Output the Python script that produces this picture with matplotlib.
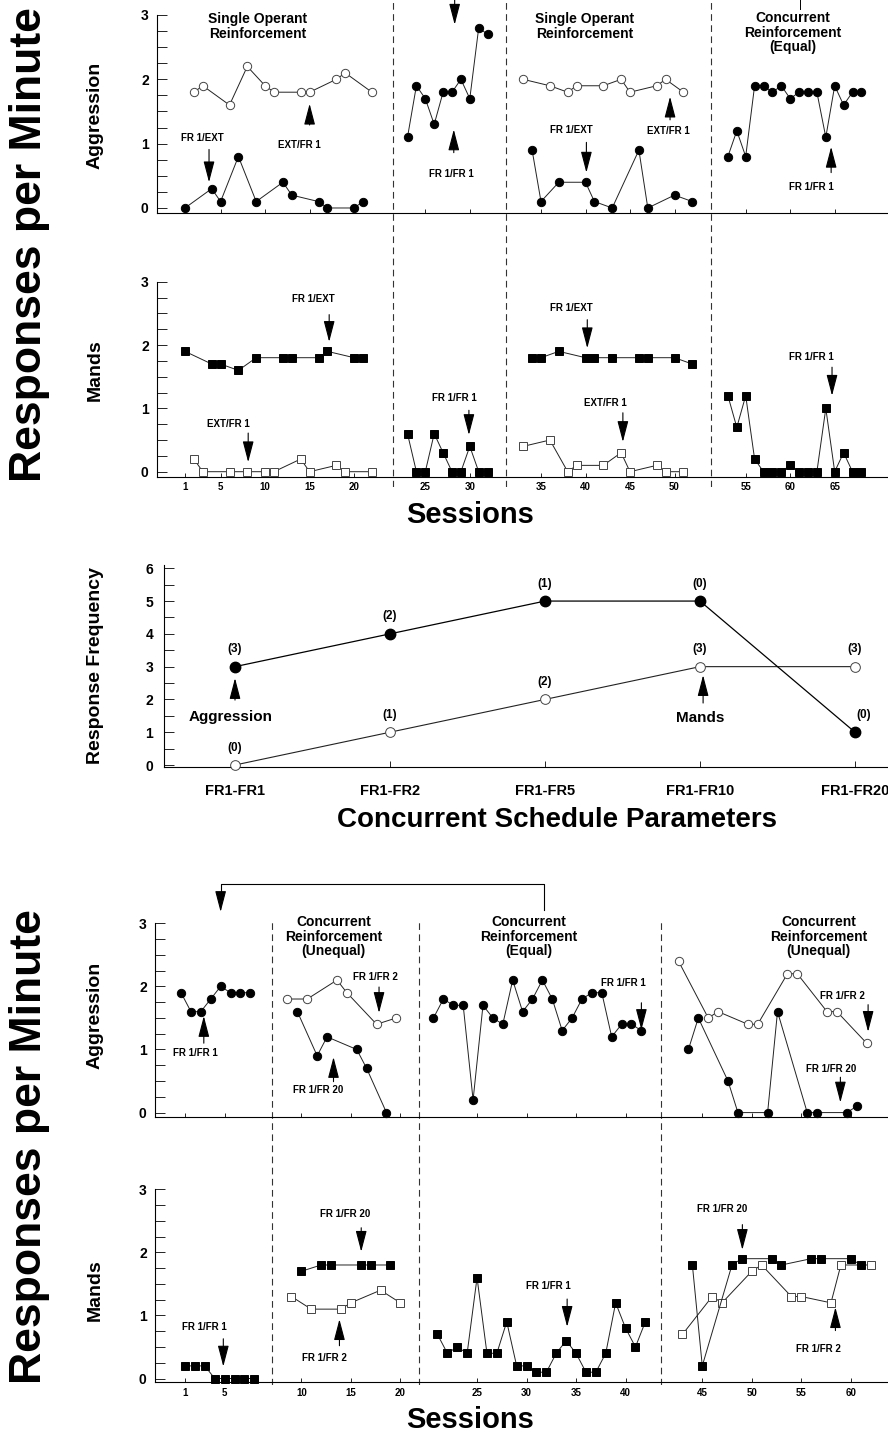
import numpy as np
import matplotlib.pyplot as plt
from matplotlib.ticker import MultipleLocator, FixedLocator

plt.rcParams['font.family'] = ['Liberation Sans', 'DejaVu Sans']
plt.rcParams['font.weight'] = 'bold'

W, H = 888, 1439

# ---------------- first study (top) ----------------
top_phase_starts = [1, 23, 33, 53]
top_ticks = [1, 5, 10, 15, 20, 25, 30, 35, 40, 45, 50, 55, 60, 65]

# phase 1: single operant reinforcement (alternating conditions)
t1_sess_fill = [1, 4, 5, 7, 9, 12, 13, 16, 17, 20, 21]
t1_sess_open = [2, 3, 6, 8, 10, 11, 14, 15, 18, 19, 22]
t1_agg_fill = [0.0, 0.3, 0.1, 0.8, 0.1, 0.4, 0.2, 0.1, 0.0, 0.0, 0.1]
t1_agg_open = [1.8, 1.9, 1.6, 2.2, 1.9, 1.8, 1.8, 1.8, 2.0, 2.1, 1.8]
t1_mand_fill = [1.9, 1.7, 1.7, 1.6, 1.8, 1.8, 1.8, 1.8, 1.9, 1.8, 1.8]
t1_mand_open = [0.2, 0.0, 0.0, 0.0, 0.0, 0.0, 0.2, 0.0, 0.1, 0.0, 0.0]
# phase 2: FR 1/FR 1
t2_sess = list(range(23, 33))
t2_agg = [1.1, 1.9, 1.7, 1.3, 1.8, 1.8, 2.0, 1.7, 2.8, 2.7]
t2_mand = [0.6, 0.0, 0.0, 0.6, 0.3, 0.0, 0.0, 0.4, 0.0, 0.0]
# phase 3: single operant reinforcement
t3_sess_open = [33, 36, 38, 39, 42, 44, 45, 48, 49, 51]
t3_sess_fill = [34, 35, 37, 40, 41, 43, 46, 47, 50, 52]
t3_agg_open = [2.0, 1.9, 1.8, 1.9, 1.9, 2.0, 1.8, 1.9, 2.0, 1.8]
t3_agg_fill = [0.9, 0.1, 0.4, 0.4, 0.1, 0.0, 0.9, 0.0, 0.2, 0.1]
t3_mand_open = [0.4, 0.5, 0.0, 0.1, 0.1, 0.3, 0.0, 0.1, 0.0, 0.0]
t3_mand_fill = [1.8, 1.8, 1.9, 1.8, 1.8, 1.8, 1.8, 1.8, 1.8, 1.7]
# phase 4: concurrent reinforcement (equal)
t4_sess = list(range(53, 69))
t4_agg = [0.8, 1.2, 0.8, 1.9, 1.9, 1.8, 1.9, 1.7, 1.8, 1.8, 1.8, 1.1, 1.9, 1.6, 1.8, 1.8]
t4_mand = [1.2, 0.7, 1.2, 0.2, 0.0, 0.0, 0.0, 0.1, 0.0, 0.0, 0.0, 1.0, 0.0, 0.3, 0.0, 0.0]

# ---------------- concurrent schedule parameters (middle) ----------------
sched_labels = ['FR1-FR1', 'FR1-FR2', 'FR1-FR5', 'FR1-FR10', 'FR1-FR20']
freq_agg = [3, 4, 5, 5, 1]
freq_mand = [0, 1, 2, 3, 3]
count_agg = ['(3)', '(2)', '(1)', '(0)', '(0)']
count_mand = ['(0)', '(1)', '(2)', '(3)', '(3)']

# ---------------- second study (bottom) ----------------
bot_phase_starts = [1, 9, 21, 43]
bot_ticks = [1, 5, 10, 15, 20, 25, 30, 35, 40, 45, 50, 55, 60]

b1_sess = list(range(1, 9))
b1_agg = [1.9, 1.6, 1.6, 1.8, 2.0, 1.9, 1.9, 1.9]
b1_mand = [0.2, 0.2, 0.2, 0.0, 0.0, 0.0, 0.0, 0.0]
b2_sess_open = [9, 11, 14, 15, 18, 20]
b2_sess_fill = [10, 12, 13, 16, 17, 19]
b2_agg_open = [1.8, 1.8, 2.1, 1.9, 1.4, 1.5]
b2_agg_fill = [1.6, 0.9, 1.2, 1.0, 0.7, 0.0]
b2_mand_open = [1.3, 1.1, 1.1, 1.2, 1.4, 1.2]
b2_mand_fill = [1.7, 1.8, 1.8, 1.8, 1.8, 1.8]
b3_sess = list(range(21, 43))
b3_agg = [1.5, 1.8, 1.7, 1.7, 0.2, 1.7, 1.5, 1.4, 2.1, 1.6, 1.8,
          2.1, 1.8, 1.3, 1.5, 1.8, 1.9, 1.9, 1.2, 1.4, 1.4, 1.3]
b3_mand = [0.7, 0.4, 0.5, 0.4, 1.6, 0.4, 0.4, 0.9, 0.2, 0.2, 0.1,
           0.1, 0.4, 0.6, 0.4, 0.1, 0.1, 0.4, 1.2, 0.8, 0.5, 0.9]
b4_sess_open = [43, 46, 47, 50, 51, 54, 55, 58, 59, 62]
b4_sess_fill = [44, 45, 48, 49, 52, 53, 56, 57, 60, 61]
b4_agg_open = [2.4, 1.5, 1.6, 1.4, 1.4, 2.2, 2.2, 1.6, 1.6, 1.1]
b4_agg_fill = [1.0, 1.5, 0.5, 0.0, 0.0, 1.6, 0.0, 0.0, 0.0, 0.1]
b4_mand_open = [0.7, 1.3, 1.2, 1.7, 1.8, 1.3, 1.3, 1.2, 1.8, 1.8]
b4_mand_fill = [1.8, 0.2, 1.8, 1.9, 1.9, 1.8, 1.9, 1.9, 1.9, 1.8]


def xpos(sess, starts, gap):
    s = np.asarray(sess, dtype=float)
    idx = np.searchsorted(starts, s, side='right') - 1
    return s + gap * idx


def px_axes(fig, left, top, right, bottom):
    return fig.add_axes([left / W, 1 - bottom / H, (right - left) / W, (bottom - top) / H])


def style(ax, xlim, ylim):
    ax.set_xlim(xlim)
    ax.set_ylim(ylim)
    ax.set_facecolor('none')
    ax.spines['top'].set_visible(False)
    ax.spines['right'].set_visible(False)
    for sp in ('left', 'bottom'):
        ax.spines[sp].set_linewidth(0.8)
    ax.yaxis.set_major_locator(MultipleLocator(1))
    ax.yaxis.set_minor_locator(MultipleLocator(0.25))
    ax.tick_params(axis='y', which='both', direction='in', length=7, width=0.6,
                   labelsize=10, pad=6)
    ax.tick_params(axis='x', which='both', direction='in', length=3, width=0.6,
                   labelsize=7, pad=4)


def line(ax, x, y, filled, marker, ms=6):
    ax.plot(x, y, color='#222222', lw=0.7, marker=marker, ms=ms,
            mfc='black' if filled else 'white', mec='black' if filled else '#444444',
            mew=0.7, clip_on=False, zorder=3)


def arrow(ax, x, y_tail, y_tip):
    ax.annotate('', xy=(x, y_tip), xytext=(x, y_tail),
                arrowprops=dict(arrowstyle='-|>,head_length=0.65,head_width=0.17',
                                lw=0.8, color='black', shrinkA=0, shrinkB=0,
                                mutation_scale=20),
                annotation_clip=False)


def note(ax, x, y, s, size=7):
    ax.text(x, y, s, ha='center', va='center', fontsize=size, fontweight='bold',
            clip_on=False)


def title(ax, x, y, s):
    ax.text(x, y, s, ha='center', va='top', fontsize=10, fontweight='bold',
            linespacing=1.05, clip_on=False)


fig = plt.figure(figsize=(W / 100, H / 100), dpi=100)

# ================= top study =================
TG = 3.0
txl = ((157 - 176.1) / 8.9, (888 - 176.1) / 8.9)
top_bounds = [24.4, 37.1, 60.1]

ov = px_axes(fig, 157, 0, 888, 487)
ov.set_xlim(txl)
ov.set_ylim(0, 1)
ov.axis('off')
ov.vlines(top_bounds, 0, 1, colors='#333333', lw=0.8, linestyles=(0, (6, 4)))

ta = px_axes(fig, 157, 15, 888, 213)
style(ta, txl, (-0.078, 3))
ta.xaxis.set_major_locator(FixedLocator(xpos(top_ticks, top_phase_starts, TG)))
ta.set_xticklabels([])

P = lambda s: xpos(s, top_phase_starts, TG)
line(ta, P(t1_sess_open), t1_agg_open, False, 'o')
line(ta, P(t1_sess_fill), t1_agg_fill, True, 'o')
line(ta, P(t2_sess), t2_agg, True, 'o')
line(ta, P(t3_sess_open), t3_agg_open, False, 'o')
line(ta, P(t3_sess_fill), t3_agg_fill, True, 'o')
line(ta, P(t4_sess), t4_agg, True, 'o')

title(ta, 9.2, 3.04, 'Single Operant\nReinforcement')
title(ta, 45.9, 3.04, 'Single Operant\nReinforcement')
title(ta, 69.3, 3.06, 'Concurrent\nReinforcement\n(Equal)')
note(ta, 2.9, 1.09, 'FR 1/EXT')
arrow(ta, 3.7, 0.91, 0.40)
note(ta, 13.9, 0.98, 'EXT/FR 1')
arrow(ta, 15.0, 1.29, 1.62)
arrow(ta, 31.3, 3.26, 2.85)
note(ta, 30.9, 0.53, 'FR 1/FR 1')
arrow(ta, 31.2, 0.86, 1.22)
note(ta, 44.4, 1.21, 'FR 1/EXT')
arrow(ta, 46.1, 1.02, 0.55)
note(ta, 55.3, 1.20, 'EXT/FR 1')
arrow(ta, 55.5, 1.37, 1.73)
note(ta, 71.4, 0.32, 'FR 1/FR 1')
arrow(ta, 73.6, 0.55, 0.95)
ta.plot([70.1, 70.1], [3.26, 3.1], color='black', lw=0.7, clip_on=False)

tm = px_axes(fig, 157, 281.7, 888, 476.7)
style(tm, txl, (-0.079, 3))
tm.xaxis.set_major_locator(FixedLocator(xpos(top_ticks, top_phase_starts, TG)))
tm.set_xticklabels([str(t) for t in top_ticks])

line(tm, P(t1_sess_open), t1_mand_open, False, 's', 5.5)
line(tm, P(t1_sess_fill), t1_mand_fill, True, 's', 5.5)
line(tm, P(t2_sess), t2_mand, True, 's', 5.5)
line(tm, P(t3_sess_open), t3_mand_open, False, 's', 5.5)
line(tm, P(t3_sess_fill), t3_mand_fill, True, 's', 5.5)
line(tm, P(t4_sess), t4_mand, True, 's', 5.5)

note(tm, 15.4, 2.72, 'FR 1/EXT')
arrow(tm, 17.2, 2.48, 2.05)
note(tm, 5.9, 0.76, 'EXT/FR 1')
arrow(tm, 8.1, 0.61, 0.15)
note(tm, 31.3, 1.16, 'FR 1/FR 1')
arrow(tm, 32.9, 0.97, 0.58)
note(tm, 44.4, 2.58, 'FR 1/EXT')
arrow(tm, 46.2, 2.40, 1.95)
note(tm, 48.2, 1.09, 'EXT/FR 1')
arrow(tm, 50.2, 0.93, 0.47)
note(tm, 71.4, 1.81, 'FR 1/FR 1')
arrow(tm, 73.7, 1.65, 1.20)

fig.text(30 / W, 1 - 245 / H, 'Responses per Minute', rotation=90, ha='center',
         va='center', fontsize=32, fontweight='bold')
fig.text(95 / W, 1 - 115 / H, 'Aggression', rotation=90, ha='center', va='center',
         fontsize=14, fontweight='bold')
fig.text(95 / W, 1 - 370 / H, 'Mands', rotation=90, ha='center', va='center',
         fontsize=14, fontweight='bold')
fig.text(470 / W, 1 - 515 / H, 'Sessions', ha='center', va='center', fontsize=21,
         fontweight='bold')

# ================= middle: schedule parameters =================
mx = px_axes(fig, 164.3, 565, 888, 767.3)
mx.set_xlim((164.3 - 235) / 155, (888 - 235) / 155)
mx.set_ylim(-0.07, 6.1)
mx.set_facecolor('none')
mx.spines['top'].set_visible(False)
mx.spines['right'].set_visible(False)
mx.yaxis.set_major_locator(MultipleLocator(1))
mx.yaxis.set_minor_locator(MultipleLocator(0.5))
mx.tick_params(axis='y', which='both', direction='in', length=7, width=0.6,
               labelsize=10, pad=8)
cat = np.arange(len(sched_labels))
mx.set_xticks(cat)
mx.set_xticklabels(sched_labels)
mx.tick_params(axis='x', direction='in', length=4, width=0.6, labelsize=10.5, pad=12)

mx.plot(cat, freq_mand, color='#222222', lw=0.8, marker='o', ms=7, mfc='white',
        mec='#444444', mew=0.7, clip_on=False, zorder=3)
mx.plot(cat, freq_agg, color='black', lw=0.9, marker='o', ms=7.5, mfc='black',
        mec='black', clip_on=False, zorder=3)
for i in cat:
    mx.annotate(count_mand[i], (i, freq_mand[i]), xytext=(0, 12.5),
                textcoords='offset points', ha='center', va='center', fontsize=8.5)
    off = (6.5, 12.5) if i == len(cat) - 1 else (0, 12.5)
    mx.annotate(count_agg[i], (i, freq_agg[i]), xytext=off,
                textcoords='offset points', ha='center', va='center', fontsize=8.5)
note(mx, -0.03, 1.47, 'Aggression', 11)
arrow(mx, 0.0, 1.98, 2.65)
note(mx, 3.0, 1.42, 'Mands', 11)
arrow(mx, 3.02, 1.89, 2.74)

fig.text(95 / W, 1 - 665 / H, 'Response Frequency', rotation=90, ha='center',
         va='center', fontsize=14, fontweight='bold')
fig.text(557 / W, 1 - 820 / H, 'Concurrent Schedule Parameters', ha='center',
         va='center', fontsize=20, fontweight='bold')

# ================= bottom study =================
BG = 2.75
bxl = ((155 - 175.1) / 9.9, (888 - 175.1) / 9.9)
bot_bounds = [9.82, 24.67, 49.05]
Q = lambda s: xpos(s, bot_phase_starts, BG)
SH = 0.4  # aggression panel sits a little left of the mands panel

ov2 = px_axes(fig, 155, 922, 888, 1385)
ov2.set_xlim(bxl)
ov2.set_ylim(0, 1)
ov2.axis('off')
ov2.vlines(bot_bounds, 0, 1, colors='#333333', lw=0.8, linestyles=(0, (6, 4)))

ba = px_axes(fig, 155, 923.3, 888, 1117)
style(ba, (bxl[0] + SH, bxl[1] + SH), (-0.07, 3))
ba.xaxis.set_major_locator(FixedLocator(xpos(bot_ticks, bot_phase_starts, BG) + SH))
ba.set_xticklabels([])

line(ba, Q(b1_sess), b1_agg, True, 'o')
line(ba, Q(b2_sess_open), b2_agg_open, False, 'o')
line(ba, Q(b2_sess_fill), b2_agg_fill, True, 'o')
line(ba, Q(b3_sess), b3_agg, True, 'o')
line(ba, Q(b4_sess_open), b4_agg_open, False, 'o')
line(ba, Q(b4_sess_fill), b4_agg_fill, True, 'o')

ba.plot(np.array([37.3, 37.3, 4.6, 4.6]) + SH, [3.21, 3.62, 3.62, 3.45],
        color='black', lw=0.8, clip_on=False)
arrow(ba, 4.6 + SH, 3.46, 3.18)
title(ba, 16.0 + SH, 3.13, 'Concurrent\nReinforcement\n(Unequal)')
title(ba, 35.7 + SH, 3.13, 'Concurrent\nReinforcement\n(Equal)')
title(ba, 65.0 + SH, 3.13, 'Concurrent\nReinforcement\n(Unequal)')
note(ba, 2.0 + SH, 0.95, 'FR 1/FR 1')
arrow(ba, 2.9 + SH, 1.10, 1.53)
note(ba, 20.2 + SH, 2.15, 'FR 1/FR 2')
arrow(ba, 20.6 + SH, 1.99, 1.58)
note(ba, 14.4 + SH, 0.36, 'FR 1/FR 20')
arrow(ba, 16.0 + SH, 0.49, 0.88)
note(ba, 45.3 + SH, 2.05, 'FR 1/FR 1')
arrow(ba, 47.1 + SH, 1.74, 1.31)
note(ba, 67.4 + SH, 1.84, 'FR 1/FR 2')
arrow(ba, 70.0 + SH, 1.71, 1.28)
note(ba, 66.3 + SH, 0.69, 'FR 1/FR 20')
arrow(ba, 67.2 + SH, 0.56, 0.16)

bm = px_axes(fig, 155, 1189.3, 888, 1382.3)
style(bm, bxl, (-0.06, 3))
bm.xaxis.set_major_locator(FixedLocator(xpos(bot_ticks, bot_phase_starts, BG)))
bm.set_xticklabels([str(t) for t in bot_ticks])

line(bm, Q(b1_sess), b1_mand, True, 's', 5.5)
line(bm, Q(b2_sess_open), b2_mand_open, False, 's', 5.5)
line(bm, Q(b2_sess_fill), b2_mand_fill, True, 's', 5.5)
line(bm, Q(b3_sess), b3_mand, True, 's', 5.5)
line(bm, Q(b4_sess_open), b4_mand_open, False, 's', 5.5)
line(bm, Q(b4_sess_fill), b4_mand_fill, True, 's', 5.5)

note(bm, 3.0, 0.81, 'FR 1/FR 1')
arrow(bm, 4.87, 0.63, 0.19)
note(bm, 17.2, 2.61, 'FR 1/FR 20')
arrow(bm, 18.8, 2.39, 2.01)
note(bm, 15.1, 0.33, 'FR 1/FR 2')
arrow(bm, 16.6, 0.52, 0.94)
note(bm, 37.7, 1.46, 'FR 1/FR 1')
arrow(bm, 39.6, 1.26, 0.82)
note(bm, 55.3, 2.68, 'FR 1/FR 20')
arrow(bm, 57.3, 2.44, 2.04)
note(bm, 65.0, 0.47, 'FR 1/FR 2')
arrow(bm, 66.7, 0.76, 1.13)

fig.text(30 / W, 1 - 1147 / H, 'Responses per Minute', rotation=90, ha='center',
         va='center', fontsize=32, fontweight='bold')
fig.text(95 / W, 1 - 1015 / H, 'Aggression', rotation=90, ha='center', va='center',
         fontsize=14, fontweight='bold')
fig.text(95 / W, 1 - 1290 / H, 'Mands', rotation=90, ha='center', va='center',
         fontsize=14, fontweight='bold')
fig.text(470 / W, 1 - 1420 / H, 'Sessions', ha='center', va='center', fontsize=21,
         fontweight='bold')

fig.savefig('out.png', dpi=100)
